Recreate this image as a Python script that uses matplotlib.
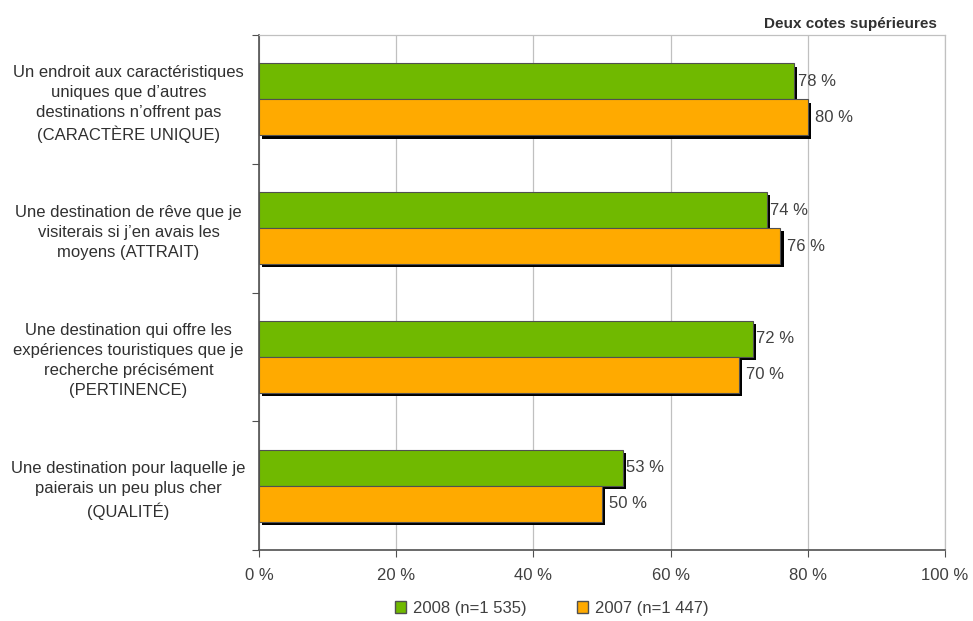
import matplotlib.pyplot as plt
import matplotlib.patheffects as pe
from matplotlib.patches import Patch
import numpy as np

plt.rcParams['font.family'] = ['Liberation Sans', 'DejaVu Sans']

categories = [
    "Un endroit aux caractéristiques\nuniques que d'autres\ndestinations n'offrent pas\n(CARACTÈRE UNIQUE)",
    "Une destination de rêve que je\nvisiterais si j'en avais les\nmoyens (ATTRAIT)",
    "Une destination qui offre les\nexpériences touristiques que je\nrecherche précisément\n(PERTINENCE)",
    "Une destination pour laquelle je\npaierais un peu plus cher\n(QUALITÉ)",
]
categories = [c.replace("'", "\u2019") for c in categories]
vals_2008 = [78, 74, 72, 53]
vals_2007 = [80, 76, 70, 50]
series_labels = ["2008 (n=1 535)", "2007 (n=1 447)"]
xticks = [0, 20, 40, 60, 80, 100]

green = '#70b900'
orange = '#ffaa00'
txt = '#404040'

fig = plt.figure(figsize=(9.73, 6.21), dpi=100)
ax = fig.add_axes([0.2662, 0.1143, 0.705, 0.8293])

y = np.arange(len(categories))
h = 0.28
shadow = [pe.SimplePatchShadow(offset=(2.3, -2.3), shadow_rgbFace='black', alpha=1.0), pe.Normal()]

b1 = ax.barh(y - h / 2, vals_2008, height=h, color=green, edgecolor='#505050', linewidth=0.8, zorder=3)
b2 = ax.barh(y + h / 2, vals_2007, height=h, color=orange, edgecolor='#505050', linewidth=0.8, zorder=3)
for bars in (b1, b2):
    for p in bars:
        p.set_path_effects(shadow)

for yy, v in zip(y - h / 2, vals_2008):
    ax.annotate(f"{v} %", (v, yy), xytext=(2.5, 0), textcoords='offset points',
                va='center', ha='left', fontsize=12, color=txt, zorder=4)
for yy, v in zip(y + h / 2, vals_2007):
    ax.annotate(f"{v} %", (v, yy), xytext=(5, 0), textcoords='offset points',
                va='center', ha='left', fontsize=12, color=txt, zorder=4)

ax.set_xlim(0, 100)
ax.set_ylim(len(categories) - 0.5, -0.5)
ax.set_xticks(xticks)
ax.set_xticklabels([f"{t} %" for t in xticks], fontsize=12, color=txt)
ax.xaxis.grid(True, color='#c0c0c0', linewidth=0.9, zorder=0)

# category labels between ticks at the boundaries
ax.set_yticks(np.arange(len(categories) + 1) - 0.5)
ax.set_yticklabels([])
ax.set_yticks(y, minor=True)
ax.set_yticklabels(categories, minor=True, fontsize=12, color='#303030', ha='center', linespacing=1.42)
ax.tick_params(axis='y', which='minor', length=0, pad=94)
ax.tick_params(axis='y', which='major', length=5, color='#505050', direction='out')
ax.tick_params(axis='x', length=5, color='#505050', direction='out', pad=8)

for s in ('top', 'right'):
    ax.spines[s].set_color('#c0c0c0')
    ax.spines[s].set_linewidth(0.9)
for s in ('left', 'bottom'):
    ax.spines[s].set_color('#505050')
    ax.spines[s].set_linewidth(1.2)

fig.text(0.963, 0.962, "Deux cotes supérieures", ha='right', va='center',
         fontsize=11, fontweight='bold', color='#303030')

handles = [Patch(facecolor=green, edgecolor='#505050'), Patch(facecolor=orange, edgecolor='#505050')]
fig.legend(handles, series_labels, loc='center', bbox_to_anchor=(0.567, 0.02), ncol=2, frameon=False,
           fontsize=12, handlelength=0.7, handleheight=0.7, handletextpad=0.4, columnspacing=3,
           labelcolor=txt)

fig.savefig('out.png', dpi=100)
